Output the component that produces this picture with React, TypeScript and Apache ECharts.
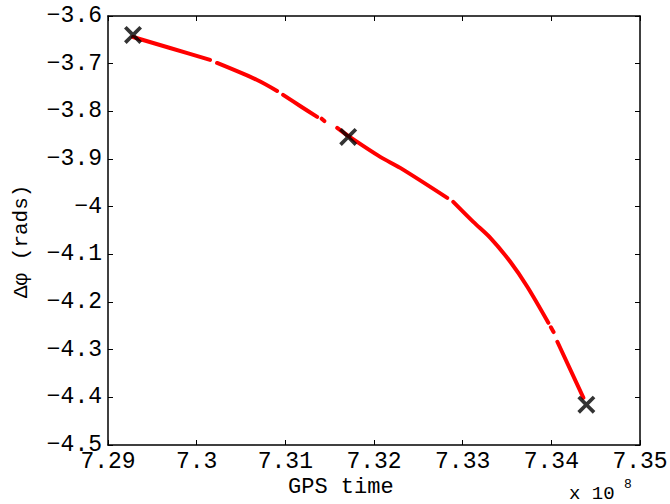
import React, { useEffect, useRef } from "react";
import * as echarts from "echarts";

// GPS time (s) and phase difference (rads); null = gap in trace
const traceTime: (number | null)[] = [
  729282000, 729700000, 730151000, null,
  730230000, 730682000, 730907000, null,
  730975000, 731167000, 731359000, null,
  731410000, 731440000, null,
  731585000, 731709000, 732070000, 732296000, 732826000, null,
  732894000, 733120000, 733312000, 733537000, 733729000, 733966000, null,
  733995000, 734025000, null,
  734068000, 734361000,
];
const tracePhase: (number | null)[] = [
  -3.644, -3.6671, -3.6922, null,
  -3.6985, -3.7342, -3.7572, null,
  -3.7656, -3.7887, -3.8117, null,
  -3.8155, -3.8205, null,
  -3.8348, -3.8516, -3.8956, -3.9187, -3.9816, null,
  -3.9899, -4.0319, -4.0654, -4.1157, -4.1681, -4.2436, null,
  -4.2530, -4.2630, null,
  -4.2834, -4.4008,
];
const markTime = [729282000, 731709000, 734395000];
const markPhase = [-3.6398, -3.8537, -4.4155];

const xTickMin = 729000000;
const xTickMax = 735000000;
const xTickStep = 1000000;
const yTickMin = -4.5;
const yTickMax = -3.6;
const yTickStep = 0.1;

const FONT = "Liberation Mono, Courier New, DejaVu Sans Mono, monospace";

const fmtNum = (v: number, d: number) => {
  const s = String(parseFloat(v.toFixed(d)));
  return s.replace("-", "\u2212");
};

const h = 1.45;
const crossPath =
  `path://M${h},0L5,${5 - h}L${10 - h},0L10,${h}L${5 + h},5L10,${10 - h}L${10 - h},10L5,${5 + h}L${h},10L0,${10 - h}L${5 - h},5L0,${h}Z`;

export default function App() {
  const ref = useRef<HTMLDivElement>(null);
  useEffect(() => {
    if (!ref.current) return;
    const chart = echarts.init(ref.current, undefined, { renderer: "svg" });
    const lineData = traceTime.map((t, i) =>
      t === null || tracePhase[i] === null ? [null, null] : [t, tracePhase[i]]
    );
    const markData = markTime.map((t, i) => [t, markPhase[i]]);
    const axisLine = { show: true, lineStyle: { color: "#000", width: 1.5 } };
    const axisTick = { show: true, inside: true, length: 5, lineStyle: { color: "#000", width: 1 } };
    chart.setOption({
      animation: false,
      backgroundColor: "#fff",
      grid: {
        left: 108,
        right: 30,
        top: 16,
        bottom: 59,
        containLabel: false,
        outerBoundsMode: "none",
      },
      xAxis: [
        {
          type: "value",
          min: xTickMin,
          max: xTickMax,
          interval: xTickStep,
          position: "bottom",
          axisLine,
          axisTick,
          splitLine: { show: false },
          axisLabel: {
            show: true,
            margin: 5,
            color: "#000",
            fontFamily: FONT,
            fontSize: 23,
            formatter: (v: number) => fmtNum(v / 1e8, 2),
          },
        },
        {
          type: "value",
          min: xTickMin,
          max: xTickMax,
          interval: xTickStep,
          position: "top",
          axisLine,
          axisTick,
          splitLine: { show: false },
          axisLabel: { show: false },
        },
      ],
      yAxis: [
        {
          type: "value",
          min: yTickMin,
          max: yTickMax,
          interval: yTickStep,
          position: "left",
          axisLine,
          axisTick,
          splitLine: { show: false },
          axisLabel: {
            show: true,
            margin: 6,
            color: "#000",
            fontFamily: FONT,
            fontSize: 23,
            formatter: (v: number) => fmtNum(v, 1),
          },
        },
        {
          type: "value",
          min: yTickMin,
          max: yTickMax,
          interval: yTickStep,
          position: "right",
          axisLine,
          axisTick,
          splitLine: { show: false },
          axisLabel: { show: false },
        },
      ],
      series: [
        {
          type: "line",
          data: lineData,
          connectNulls: false,
          showSymbol: false,
          smooth: 0.3,
          lineStyle: { color: "#ff0000", width: 4, cap: "round" },
          z: 2,
        },
        {
          type: "scatter",
          data: markData,
          symbol: crossPath,
          symbolSize: 18,
          itemStyle: { color: "#000" },
          z: 3,
        },
      ],
      graphic: [
        {
          type: "text",
          left: 288,
          top: 476,
          style: { text: "GPS time", font: `22px ${FONT}`, fill: "#000" },
        },
        {
          type: "text",
          x: 11,
          y: 298,
          rotation: Math.PI / 2,
          style: { text: "\u0394\u03c6 (rads)", font: `21px ${FONT}`, fill: "#000", textVerticalAlign: "top" },
        },
        {
          type: "text",
          left: 569,
          top: 484,
          style: { text: "x 10", font: `19px ${FONT}`, fill: "#000" },
        },
        {
          type: "text",
          left: 624,
          top: 478,
          style: { text: "8", font: `13px ${FONT}`, fill: "#000" },
        },
      ],
    });
    return () => chart.dispose();
  }, []);
  return (
    <div
      ref={ref}
      style={{ width: 670, height: 504, position: "fixed", left: 0, top: 0 }}
    />
  );
}
